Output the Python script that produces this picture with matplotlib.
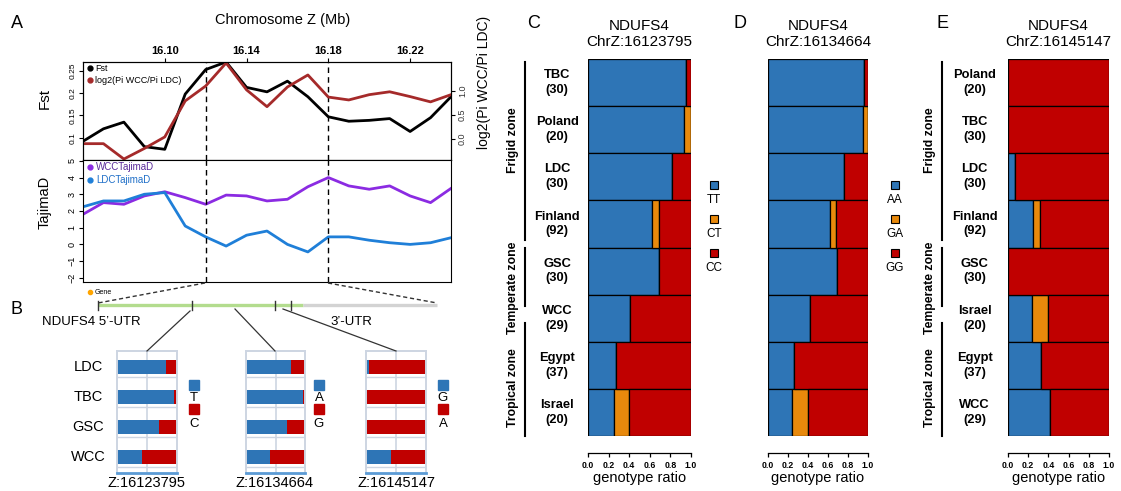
import numpy as np
import matplotlib
matplotlib.use("Agg")
import matplotlib.pyplot as plt
from matplotlib.lines import Line2D

plt.rcParams['font.family'] = ['Liberation Sans', 'DejaVu Sans']
plt.rcParams['axes.unicode_minus'] = True

W, H = 1121, 491

# ---------------- panel A : sliding windows on chromosome Z ----------------
pos_mb = [16.06, 16.07, 16.08, 16.09, 16.10, 16.11, 16.12, 16.13, 16.14, 16.15,
          16.16, 16.17, 16.18, 16.19, 16.20, 16.21, 16.22, 16.23, 16.24]
fst = [0.092, 0.120, 0.135, 0.080, 0.074, 0.198, 0.253, 0.270, 0.213, 0.203,
       0.227, 0.192, 0.147, 0.137, 0.139, 0.143, 0.114, 0.145, 0.192]
log2_pi = [-0.10, -0.10, -0.42, -0.20, 0.04, 0.79, 1.10, 1.58, 1.02, 0.67,
           1.08, 1.33, 0.87, 0.81, 0.92, 0.98, 0.88, 0.77, 0.92]
wcc_tajima = [1.8, 2.5, 2.4, 2.9, 3.15, 2.8, 2.4, 2.95, 2.9, 2.6,
              2.7, 3.45, 4.0, 3.5, 3.3, 3.5, 2.9, 2.5, 3.35]
ldc_tajima = [2.25, 2.6, 2.6, 3.0, 3.1, 1.1, 0.45, -0.1, 0.55, 0.8,
              0.0, -0.45, 0.45, 0.45, 0.25, 0.1, 0.0, 0.1, 0.4]
gene_bounds = [16.12, 16.18]

# ---------------- panel B : allele frequencies of 3 SNPs ----------------
b_pops = ['LDC', 'TBC', 'GSC', 'WCC']
b_snps = ['Z:16123795', 'Z:16134664', 'Z:16145147']
b_alleles = [('T', 'C'), ('A', 'G'), ('G', 'A')]
b_freq = [[0.82, 0.955, 0.70, 0.41],
          [0.756, 0.96, 0.70, 0.41],
          [0.05, 0.0, 0.0, 0.42]]

# ---------------- panels C, D, E : genotype ratios ----------------
pops_cd = ['TBC\n(30)', 'Poland\n(20)', 'LDC\n(30)', 'Finland\n(92)',
           'GSC\n(30)', 'WCC\n(29)', 'Egypt\n(37)', 'Israel\n(20)']
pops_e = ['Poland\n(20)', 'TBC\n(30)', 'LDC\n(30)', 'Finland\n(92)',
          'GSC\n(30)', 'Israel\n(20)', 'Egypt\n(37)', 'WCC\n(29)']
c_hom = [0.955, 0.935, 0.82, 0.62, 0.69, 0.41, 0.27, 0.25]
c_het = [0.0, 0.065, 0.0, 0.065, 0.0, 0.0, 0.0, 0.15]
d_hom = [0.96, 0.95, 0.76, 0.62, 0.69, 0.42, 0.265, 0.245]
d_het = [0.0, 0.05, 0.0, 0.06, 0.0, 0.0, 0.0, 0.16]
e_hom = [0.0, 0.0, 0.07, 0.25, 0.0, 0.24, 0.33, 0.42]
e_het = [0.0, 0.0, 0.0, 0.07, 0.0, 0.16, 0.0, 0.0]
c_geno = ['TT', 'CT', 'CC']
d_geno = ['AA', 'GA', 'GG']
zones = ['Frigid zone', 'Temperate zone', 'Tropical zone']
zone_spans = [(0.06, 3.84), (4.0, 5.25), (5.6, 8.0)]
zone_text_y = [1.72, 4.85, 6.98]

blue, orange, red = '#2E75B6', '#E8890C', '#C00000'

fig = plt.figure(figsize=(W / 100, H / 100), dpi=100)


def ax_px(l, t, r, b):
    return fig.add_axes([l / W, 1 - b / H, (r - l) / W, (b - t) / H])


def rot_ticks(ax):
    for lab in ax.get_yticklabels():
        lab.set_rotation(90)
        lab.set_va('center')


# ---- A top: Fst and log2 pi ratio
ax1 = ax_px(83, 62, 451, 160)
ax1.plot(pos_mb, fst, color='black', lw=2)
ax1.set_xlim(16.06, 16.24)
ax1.set_ylim(0.05, 0.27)
ax1.xaxis.tick_top()
ax1.set_xticks([16.10, 16.14, 16.18, 16.22])
ax1.set_xticklabels(['16.10', '16.14', '16.18', '16.22'], fontsize=8, fontweight='bold')
ax1.tick_params(axis='x', length=3, pad=1)
ax1.set_yticks([0.1, 0.15, 0.2, 0.25])
ax1.set_yticklabels(['0.1', '0.15', '0.2', '0.25'], fontsize=6)
ax1.tick_params(axis='y', length=3, pad=1.5)
rot_ticks(ax1)
ax1.set_ylabel('Fst', fontsize=11)
ax1.yaxis.set_label_coords(-0.084, 0.63)
for x in gene_bounds:
    ax1.axvline(x, color='black', lw=1, ls=(0, (4, 3)))

ax1b = ax1.twinx()
ax1b.plot(pos_mb, log2_pi, color='#A52A2A', lw=2)
ax1b.set_ylim(-0.44, 1.6)
ax1b.set_yticks([0.0, 0.5, 1.0])
ax1b.set_yticklabels(['0.0', '0.5', '1.0'], fontsize=6.5, color='#333333')
ax1b.tick_params(axis='y', length=3, pad=2)
rot_ticks(ax1b)
ax1b.set_ylabel('log2(Pi WCC/Pi LDC)', fontsize=10, rotation=90)
ax1b.yaxis.set_label_coords(1.07, 0.79)
handles = [Line2D([], [], ls='', marker='o', ms=3.5, color='black'),
           Line2D([], [], ls='', marker='o', ms=3.5, color='#A52A2A')]
ax1b.legend(handles, ['Fst', 'log2(Pi WCC/Pi LDC)'], loc='upper left', frameon=False,
            fontsize=6.5, handletextpad=0.1, borderaxespad=0.15, labelspacing=0.35,
            handlelength=1.0, borderpad=0.1)

# ---- A bottom: Tajima's D
ax2 = ax_px(83, 160, 451, 282)
ax2.plot(pos_mb, wcc_tajima, color='#8B2BE2', lw=2)
ax2.plot(pos_mb, ldc_tajima, color='#1F7FD8', lw=2)
ax2.set_xlim(16.06, 16.24)
ax2.set_ylim(-2.25, 5.05)
ax2.set_xticks([])
ax2.set_yticks(range(-2, 6))
ax2.set_yticklabels([str(v).replace('-', '\u2212') for v in range(-2, 6)], fontsize=6.5)
ax2.tick_params(axis='y', length=3, pad=1.5)
rot_ticks(ax2)
ax2.set_ylabel('TajimaD', fontsize=10.5)
ax2.yaxis.set_label_coords(-0.084, 0.65)
for x in gene_bounds:
    ax2.axvline(x, color='black', lw=1, ls=(0, (4, 3)))
handles = [Line2D([], [], ls='', marker='o', ms=3.5, color='#8B2BE2'),
           Line2D([], [], ls='', marker='o', ms=3.5, color='#1F7FD8')]
leg = ax2.legend(handles, ['WCCTajimaD', 'LDCTajimaD'], loc='upper left', frameon=False,
                 fontsize=7, handletextpad=0.1, borderaxespad=0.15, labelspacing=0.3,
                 handlelength=1.0, borderpad=0.1)
for t, c in zip(leg.get_texts(), ['#5A2A9A', '#1F6FC8']):
    t.set_color(c)

# ---- B: mini allele frequency bars
mini_boxes = [(117, 351, 177, 473), (246, 351, 305, 473), (366, 351, 426, 473)]
grid_c = '#CDD5E2'
for k in range(3):
    ax = ax_px(*mini_boxes[k])
    f = np.array(b_freq[k])
    yy = np.arange(len(b_pops))
    ax.barh(yy, f, height=0.45, color=blue, zorder=2)
    ax.barh(yy, 1 - f, left=f, height=0.45, color=red, zorder=2)
    ax.set_xlim(0, 1)
    ax.set_ylim(3.533, -0.533)
    ax.axvline(0.5, color=grid_c, lw=1.2, zorder=0)
    for i in yy:
        ax.axhline(i + 0.33, color=grid_c, lw=1, zorder=0)
    ax.set_xticks([])
    ax.set_yticks([])
    for s in ['left', 'right', 'top']:
        ax.spines[s].set_color(grid_c)
        ax.spines[s].set_linewidth(1.4)
    ax.spines['bottom'].set_color('#5B9BD5')
    ax.spines['bottom'].set_linewidth(2)
    if k == 0:
        for i, p in enumerate(b_pops):
            ax.text(-0.48, i, p, transform=ax.get_yaxis_transform(), ha='center',
                    va='center', fontsize=10.5)


# ---- C, D, E genotype panels
def geno_panel(box, labels, hom, het, title, letter, row_labels):
    ax = ax_px(*box)
    y = np.arange(len(labels)) + 0.5
    hom = np.array(hom)
    het = np.array(het)
    alt = 1 - hom - het
    kw = dict(height=1, edgecolor='black', lw=0.9)
    ax.barh(y, hom, color=blue, **kw)
    ax.barh(y, het, left=hom, color=orange, **kw)
    ax.barh(y, alt, left=hom + het, color=red, **kw)
    ax.set_xlim(0, 1)
    ax.set_ylim(8, 0)
    ax.set_yticks([])
    for s in ['left', 'right', 'top']:
        ax.spines[s].set_visible(False)
    ax.spines['bottom'].set_position(('outward', 12))
    ax.spines['bottom'].set_bounds(0, 1)
    ax.spines['bottom'].set_linewidth(0.9)
    ticks = [0, 0.2, 0.4, 0.6, 0.8, 1.0]
    ax.set_xticks(ticks)
    ax.set_xticklabels(['%.1f' % t for t in ticks], fontsize=6.3, fontweight='bold')
    ax.tick_params(axis='x', length=3, width=0.9, pad=3)
    ax.set_xlabel('genotype ratio', fontsize=10.5, labelpad=1)
    ax.set_title(title, fontsize=11, pad=9, linespacing=1.25)
    ax.text(letter[0], 1.095, letter[1], transform=ax.transAxes, fontsize=13,
            ha='center', va='center')
    if row_labels is not None:
        xr, xl, xt = row_labels
        tr = ax.get_yaxis_transform()
        for yi, lab in zip(y, labels):
            ax.text(xr, yi, lab, transform=tr, ha='center', va='center',
                    fontsize=9.3, fontweight='bold', linespacing=1.3)
        for (y0, y1), z, yc in zip(zone_spans, zones, zone_text_y):
            ax.plot([xl, xl], [y0, y1], transform=tr, clip_on=False, color='black', lw=1.5)
            ax.text(xt, yc, z, transform=tr, rotation=90, ha='center', va='center',
                    fontsize=8.8, fontweight='bold')
    return ax


geno_panel((588, 59, 691, 436), pops_cd, c_hom, c_het, 'NDUFS4\nChrZ:16123795',
           (-0.53, 'C'), (-0.30, -0.61, -0.73))
geno_panel((768, 59, 868, 436), pops_cd, d_hom, d_het, 'NDUFS4\nChrZ:16134664',
           (-0.28, 'D'), None)
geno_panel((1008, 59, 1109, 436), pops_e, e_hom, e_het, 'NDUFS4\nChrZ:16145147',
           (-0.65, 'E'), (-0.33, -0.65, -0.77))

# ---- overlay: letters, gene model, connectors, legends
ov = fig.add_axes([0, 0, 1, 1])
ov.set_xlim(0, W)
ov.set_ylim(H, 0)
ov.axis('off')

ov.text(17, 23, 'A', fontsize=13, ha='center', va='center')
ov.text(17, 309, 'B', fontsize=13, ha='center', va='center')
ov.text(283, 20, 'Chromosome Z (Mb)', fontsize=10.5, ha='center', va='center')

# gene legend
ov.plot([90], [292], 'o', color='#FFA500', ms=3)
ov.text(95, 292, 'Gene', fontsize=5, va='center')

# gene model (schematic)
gene_y = 305
utr5_x = (98, 303)
utr3_x = (303, 437)
snp_ticks = [98, 192, 275, 291]
ov.plot(utr5_x, [gene_y, gene_y], color='#B3DC8E', lw=2.4, solid_capstyle='butt')
ov.plot(utr3_x, [gene_y, gene_y], color='#D3D3D3', lw=2.4, solid_capstyle='butt')
for x in snp_ticks:
    ov.plot([x, x], [gene_y - 4, gene_y + 5], color='#333333', lw=1)
ov.plot([205, utr5_x[0]], [283, gene_y - 2], color='#333333', lw=1, ls=(0, (3, 2)))
ov.plot([328, utr3_x[1]], [283, gene_y - 2], color='#333333', lw=1, ls=(0, (3, 2)))
ov.text(42, 322, 'NDUFS4 5\u2019-UTR', fontsize=9.5, va='center')
ov.text(330, 322, '3\u2019-UTR', fontsize=9.5, va='center')

connect_from = [(190, 311), (235, 309), (283, 309)]
connect_to = [(147, 351), (275, 351), (396, 351)]
for (x0, y0), (x1, y1) in zip(connect_from, connect_to):
    ov.plot([x0, x1], [y0, y1], color='#333333', lw=0.9)

# SNP names under the mini bars
for (x1, _), name in zip(connect_to, b_snps):
    ov.text(x1, 490, name, fontsize=10.5, ha='center', va='bottom')

# mini-bar legends
for xl, (a1, a2) in zip([194, 319, 443], b_alleles):
    ov.plot([xl], [385], 's', color=blue, ms=7)
    ov.text(xl, 398, a1, fontsize=9.5, ha='center', va='center')
    ov.plot([xl], [409], 's', color=red, ms=7)
    ov.text(xl, 424, a2, fontsize=9.5, ha='center', va='center')

# genotype legends
for xl, names in zip([714, 895], [c_geno, d_geno]):
    for j, (nm, col) in enumerate(zip(names, [blue, orange, red])):
        ys = 185 + 34 * j
        ov.plot([xl], [ys], 's', color=col, mec='black', mew=0.8, ms=6)
        ov.text(xl, ys + 15, nm, fontsize=8.5, ha='center', va='center')

fig.savefig('out.png', dpi=100)
